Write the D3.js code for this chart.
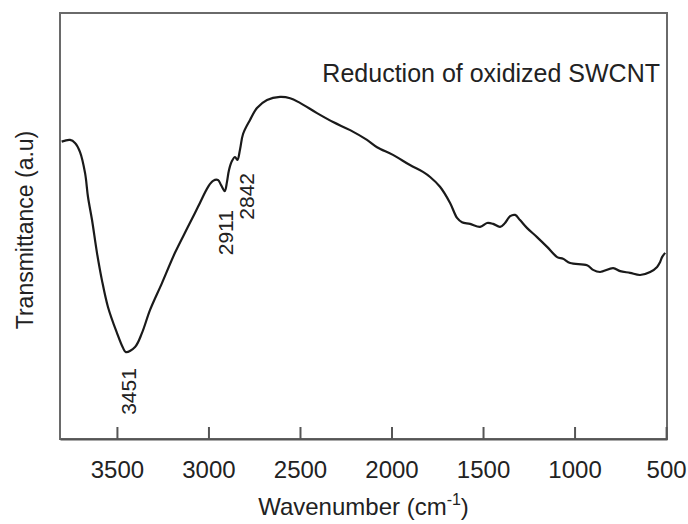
<!DOCTYPE html>
<html>
<head>
<meta charset="utf-8">
<script src="https://cdn.jsdelivr.net/npm/d3@7"></script>
<style>
	body { margin: 0; background: #fff; }
	text { font-family: "Liberation Sans", Arial, sans-serif; fill: #222; }
</style>
</head>
<body>
<svg id="chart"></svg>
<script>
// wavenumbers (cm-1), left to right
let wavenumber = [3802, 3756, 3729, 3702, 3674, 3658, 3636, 3609, 3582, 3549,
	3500, 3467, 3451, 3401, 3363, 3319, 3254, 3183, 3112, 3057,
	3002, 2975, 2948, 2931, 2911, 2899, 2888, 2871, 2855, 2842,
	2827, 2811, 2773, 2735, 2680, 2609, 2554, 2500, 2407, 2319,
	2226, 2134, 2079, 1992, 1899, 1828, 1789, 1735, 1680, 1642,
	1615, 1571, 1516, 1478, 1445, 1407, 1380, 1352, 1325, 1298,
	1259, 1205, 1150, 1095, 1063, 1024, 932, 899, 861, 789,
	751, 697, 642, 587, 549, 533, 522, 505];

// transmittance, arbitrary units (0 = bottom of frame, 100 = top)
let transmittance = [69.8, 70.2, 69.5, 67.4, 62.4, 56.8, 51.4, 43.7, 37.3, 31.0,
	24.9, 21.4, 20.4, 21.6, 24.9, 30.3, 36.6, 43.7, 49.8, 54.5,
	59.2, 60.6, 60.8, 59.6, 58.2, 60.3, 63.1, 65.3, 66.2, 65.5,
	68.1, 71.6, 74.9, 77.7, 79.6, 80.3, 80.0, 78.9, 76.5, 74.4,
	72.5, 70.2, 68.5, 66.7, 64.3, 62.7, 61.5, 59.2, 55.4, 51.9,
	50.9, 50.5, 49.8, 50.7, 50.5, 49.8, 50.7, 52.3, 52.6, 51.4,
	49.5, 47.4, 45.1, 42.7, 42.3, 41.3, 40.8, 39.7, 39.2, 40.1,
	39.4, 39.0, 38.5, 39.2, 40.4, 41.5, 42.7, 43.7];

let xTicks = [3500, 3000, 2500, 2000, 1500, 1000, 500];

// labelled bands
let peakWn = [3451, 2911, 2842];
let peakLabel = ['3451', '2911', '2842'];

let seriesName = 'Reduction of oxidized SWCNT';

let data = wavenumber.map((w, i) => [w, transmittance[i]]);
console.log('points', data.length);

let marg = { top: 13, right: 21, bottom: 85, left: 60 };
let tiw = 688, tih = 524;
let w = tiw - marg.left - marg.right;
let h = tih - marg.top - marg.bottom;

const svg = d3.select('#chart')
	.attr('width', tiw)
	.attr('height', tih);

// wavenumber axis runs high -> low
const xScale = d3.scaleLinear()
	.domain([3811, 495])
	.range([marg.left, marg.left + w]);

const yScale = d3.scaleLinear()
	.domain([0, 100])
	.range([marg.top + h, marg.top]);

// frame
svg.append('rect')
	.attr('x', marg.left)
	.attr('y', marg.top)
	.attr('width', w)
	.attr('height', h)
	.attr('fill', 'none')
	.attr('stroke', '#6a6a6a')
	.attr('stroke-width', 2);

// bottom axis, ticks pointing into the plot
const xAxis = d3.axisBottom(xScale)
	.tickValues(xTicks)
	.tickSizeInner(-12)
	.tickSizeOuter(0)
	.tickPadding(22)
	.tickFormat(d3.format('d'));

const gx = svg.append('g')
	.attr('transform', 'translate(0,' + (marg.top + h) + ')')
	.call(xAxis);
gx.select('.domain').attr('stroke', '#555').attr('stroke-width', 2);
gx.selectAll('.tick line').attr('stroke', '#555').attr('stroke-width', 2);
gx.selectAll('.tick text')
	.attr('font-size', 24)
	.attr('font-family', '"Liberation Sans", Arial, sans-serif')
	.attr('fill', '#222');

// spectrum
const line = d3.line()
	.x(d => xScale(d[0]))
	.y(d => yScale(d[1]))
	.curve(d3.curveCatmullRom);

svg.append('path')
	.datum(data)
	.attr('fill', 'none')
	.attr('stroke', '#1a1a1a')
	.attr('stroke-width', 2.2)
	.attr('stroke-linejoin', 'round')
	.attr('d', line);

// band labels, rotated, sitting under each dip
let labOff = [[3, 16], [1, 19], [9, 13]];
peakWn.forEach((p, i) => {
	let v = transmittance[wavenumber.indexOf(p)];
	let lx = xScale(p) + labOff[i][0];
	let ly = yScale(v) + labOff[i][1];
	svg.append('text')
		.attr('transform', 'translate(' + lx + ',' + ly + ') rotate(-90)')
		.attr('text-anchor', 'end')
		.attr('dominant-baseline', 'central')
		.attr('font-size', 21)
		.text(peakLabel[i]);
});

// series caption
svg.append('text')
	.attr('x', marg.left + w - 7)
	.attr('y', 82)
	.attr('text-anchor', 'end')
	.attr('font-size', 25)
	.text(seriesName);

// axis titles
const xt = svg.append('text')
	.attr('x', marg.left + w / 2)
	.attr('y', 515)
	.attr('text-anchor', 'middle')
	.attr('font-size', 24);
xt.append('tspan').text('Wavenumber (cm');
xt.append('tspan').attr('font-size', 16).attr('dy', -10).text('-1');
xt.append('tspan').attr('dy', 10).text(')');

svg.append('text')
	.attr('transform', 'translate(25,' + (marg.top + h / 2 + 4) + ') rotate(-90)')
	.attr('text-anchor', 'middle')
	.attr('dominant-baseline', 'central')
	.attr('font-size', 23)
	.text('Transmittance (a.u)');
</script>
</body>
</html>
